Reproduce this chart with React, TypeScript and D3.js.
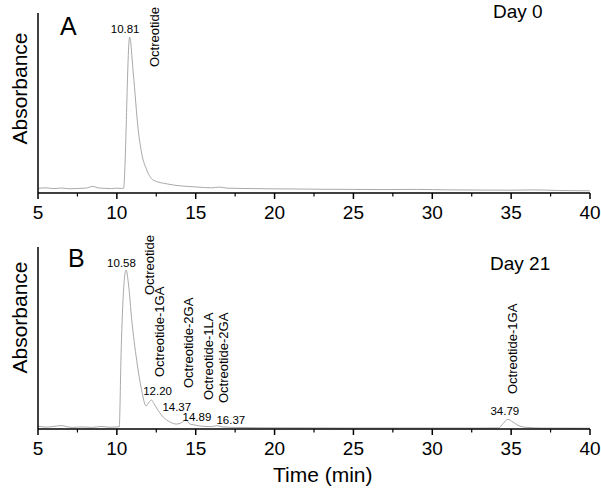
import React from "react";
import * as d3 from "d3";

// ---------- DATA ----------
const xTicks = [5, 10, 15, 20, 25, 30, 35, 40];
const xMinorTicks = [7.5, 12.5, 17.5, 22.5, 27.5, 32.5, 37.5];

// Panel A (Day 0)
const timesA = [5, 5.5, 6, 6.5, 7, 7.5, 8, 8.5, 8.8, 9.2, 9.6, 10, 10.3, 10.42, 10.81, 11.04, 11.36, 11.57, 11.9, 12.3, 13.2, 14, 15, 16, 16.5, 17, 18, 19.5, 21, 23, 25, 27, 29, 31, 33, 35, 36.5, 38, 40];
const valuesA = [3.0, 3.3, 2.8, 3.2, 2.7, 2.9, 3.1, 4.2, 3.3, 3.0, 2.8, 3.1, 2.9, 3.0, 100, 77, 40, 25.6, 14.7, 8.3, 5.8, 4.6, 3.9, 3.3, 3.8, 3.1, 2.9, 2.7, 2.6, 2.4, 2.3, 2.2, 2.3, 2.0, 1.9, 1.8, 2.0, 1.6, 1.4];

// Panel B (Day 21)
const timesB = [5, 5.5, 6, 6.5, 6.8, 7.2, 7.8, 8.4, 9, 9.5, 10, 10.15, 10.27, 10.4, 10.58, 10.75, 10.94, 11.26, 11.57, 11.85, 12.05, 12.2, 12.35, 12.52, 12.95, 13.37, 13.8, 14.1, 14.37, 14.64, 14.89, 15.2, 15.6, 16.0, 16.37, 16.7, 17.5, 19, 22, 25, 28, 31, 33, 34.2, 34.5, 34.79, 35.1, 35.5, 36, 37, 40];
const valuesB = [1.8, 1.2, 1.6, 2.2, 1.5, 1.0, 1.3, 1.0, 1.6, 1.1, 1.3, 1.3, 48, 83, 100, 90, 69, 43, 24.5, 14.5, 17, 18.2, 16, 13.2, 7.5, 4.4, 3.1, 4.0, 5.7, 3.1, 2.6, 2.0, 1.6, 1.5, 2.1, 1.3, 1.0, 0.8, 0.7, 0.6, 0.6, 0.6, 0.6, 0.7, 3.5, 6.1, 4.5, 2.0, 1.0, 0.6, 0.5];

// Peak retention-time labels
const peakTimesA = [10.81];
const peakTimesB = [10.58, 12.2, 14.37, 14.89, 16.37, 34.79];

// Compound labels
const compoundsA = ["Octreotide"];
const compoundsB = ["Octreotide", "Octreotide-1GA", "Octreotide-2GA", "Octreotide-1LA", "Octreotide-2GA", "Octreotide-1GA"];

// ---------- LAYOUT / STYLE ----------
const W = 601;
const H = 489;
const FONT = "'Liberation Sans', Arial, Helvetica, sans-serif";
const TRACE = "#a9a9a9";

const xScale = d3.scaleLinear().domain([5, 40]).range([38, 590]);

// pixel offsets for text (style, relative to the peak's apex)
const peakLabelOffA = [{ dx: -4.5, dy: -4 }];
const peakLabelOffB = [
  { dx: -4.5, dy: -3.5 },
  { dx: 6, dy: -5 },
  { dx: -9, dy: -8.5 },
  { dx: 3, dy: -4 },
  { dx: 13.5, dy: -1.5 },
  { dx: -3, dy: -4.5 },
];
// rotated compound labels: baseline x offset from peak and bottom y
const compoundPosA = [{ dx: 29, bottom: 67 }];
const compoundPosB = [
  { dx: 28, bottom: 295 },
  { dx: 12.5, bottom: 377 },
  { dx: 7, bottom: 388 },
  { dx: 19, bottom: 400 },
  { dx: 11, bottom: 403 },
  { dx: 9, bottom: 394 },
];

type PanelProps = {
  top: number;
  bottom: number;
  peakY: number;
  times: number[];
  values: number[];
  peakTimes: number[];
  peakOff: { dx: number; dy: number }[];
  compounds: string[];
  compoundPos: { dx: number; bottom: number }[];
  letter: string;
  letterX: number;
  letterY: number;
  day: string;
  dayX: number;
  dayY: number;
  yLabelCenter: number;
};

function Panel(p: PanelProps) {
  const yScale = d3
    .scaleLinear()
    .domain([0, (100 * (p.bottom - p.top)) / (p.bottom - p.peakY)])
    .range([p.bottom, p.top]);
  const pts: [number, number][] = p.times.map((t, i) => [t, p.values[i]]);
  const line = d3
    .line<[number, number]>()
    .x((d) => xScale(d[0]))
    .y((d) => yScale(d[1]))
    .curve(d3.curveMonotoneX);
  const valueAt = (t: number) => {
    const i = p.times.findIndex((tt) => Math.abs(tt - t) < 1e-6);
    return i >= 0 ? p.values[i] : 0;
  };
  return (
    <g>
      <path d={line(pts) || ""} fill="none" stroke={TRACE} strokeWidth={1} />
      {/* y axis line */}
      <line x1={38} x2={38} y1={p.top} y2={p.bottom} stroke="#000" strokeWidth={1.5} />
      {/* x axis */}
      <line x1={38} x2={590} y1={p.bottom} y2={p.bottom} stroke="#000" strokeWidth={1.5} />
      {xTicks.map((t) => (
        <g key={"t" + t}>
          <line x1={xScale(t)} x2={xScale(t)} y1={p.bottom} y2={p.bottom + 6} stroke="#000" strokeWidth={1.5} />
          <text x={xScale(t)} y={p.bottom + 26} textAnchor="middle" fontSize={19} fontFamily={FONT} fill="#000">
            {t}
          </text>
        </g>
      ))}
      {xMinorTicks.map((t) => (
        <line key={"m" + t} x1={xScale(t)} x2={xScale(t)} y1={p.bottom} y2={p.bottom + 3.5} stroke="#000" strokeWidth={1.2} />
      ))}
      <text
        transform={`translate(27,${p.yLabelCenter}) rotate(-90)`}
        textAnchor="middle"
        fontSize={21}
        fontFamily={FONT}
        fill="#000"
      >
        Absorbance
      </text>
      <text x={p.letterX} y={p.letterY} fontSize={25} fontFamily={FONT} fill="#000">
        {p.letter}
      </text>
      <text x={p.dayX} y={p.dayY} fontSize={19} fontFamily={FONT} fill="#000">
        {p.day}
      </text>
      {p.peakTimes.map((t, i) => (
        <text
          key={"p" + i}
          x={xScale(t) + p.peakOff[i].dx}
          y={yScale(valueAt(t)) + p.peakOff[i].dy}
          textAnchor="middle"
          fontSize={11.5}
          fontFamily={FONT}
          fill="#000"
        >
          {t.toFixed(2)}
        </text>
      ))}
      {p.compounds.map((c, i) => {
        const x = xScale(p.peakTimes[i]) + p.compoundPos[i].dx;
        const y = p.compoundPos[i].bottom;
        return (
          <text
            key={"c" + i}
            transform={`translate(${x},${y}) rotate(-90)`}
            fontSize={13}
            fontFamily={FONT}
            fill="#000"
          >
            {c}
          </text>
        );
      })}
    </g>
  );
}

export default function App() {
  return (
    <svg
      width={W}
      height={H}
      style={{ position: "absolute", left: 0, top: 0, background: "#fff" }}
    >
      <rect width={W} height={H} fill="#fff" />
      <Panel
        top={13}
        bottom={193}
        peakY={37}
        times={timesA}
        values={valuesA}
        peakTimes={peakTimesA}
        peakOff={peakLabelOffA}
        compounds={compoundsA}
        compoundPos={compoundPosA}
        letter="A"
        letterX={60}
        letterY={35}
        day="Day 0"
        dayX={493}
        dayY={17.5}
        yLabelCenter={88.5}
      />
      <Panel
        top={247}
        bottom={429}
        peakY={270}
        times={timesB}
        values={valuesB}
        peakTimes={peakTimesB}
        peakOff={peakLabelOffB}
        compounds={compoundsB}
        compoundPos={compoundPosB}
        letter="B"
        letterX={68}
        letterY={267}
        day="Day 21"
        dayX={490}
        dayY={269.5}
        yLabelCenter={317.5}
      />
      <text x={273} y={482} fontSize={21} fontFamily={FONT} fill="#000">
        Time (min)
      </text>
    </svg>
  );
}
